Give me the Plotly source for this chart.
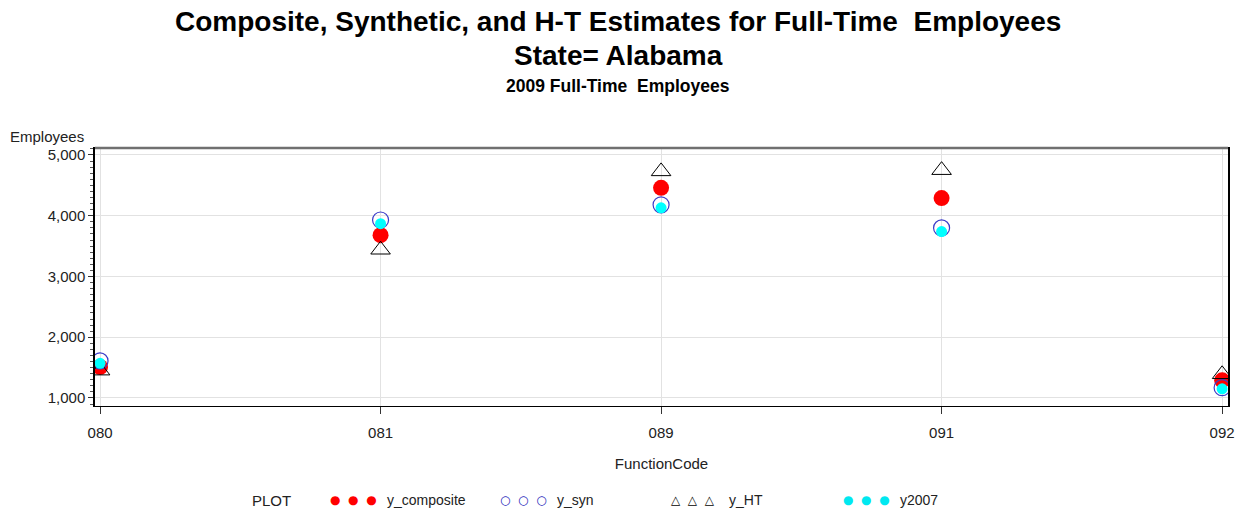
import plotly.graph_objects as go

categories = ["080", "081", "089", "091", "092"]
y_composite = [1510, 3680, 4460, 4290, 1290]
y_syn = [1610, 3930, 4180, 3800, 1170]
y_HT = [1450, 3440, 4730, 4750, 1390]
y2007 = [1570, 3870, 4130, 3740, 1150]
y_ticks = [1000, 2000, 3000, 4000, 5000]

FONT = "Liberation Sans, Arial, sans-serif"

fig = go.Figure()
fig.add_trace(go.Scatter(x=categories, y=y_composite, mode="markers", name="y_composite",
                         marker=dict(symbol="circle", size=16, color="#ff0000", line=dict(width=0))))
fig.add_trace(go.Scatter(x=categories, y=y_syn, mode="markers", name="y_syn",
                         marker=dict(symbol="circle-open", size=16, color="#3b3bc8", line=dict(width=1.2))))
fig.add_trace(go.Scatter(x=categories, y=y_HT, mode="markers", name="y_HT",
                         marker=dict(symbol="triangle-up-open", size=17, color="#000000", line=dict(width=1))))
fig.add_trace(go.Scatter(x=categories, y=y2007, mode="markers", name="y2007",
                         marker=dict(symbol="circle", size=11, color="#00ffff", line=dict(width=0))))

fig.update_layout(
    width=1247, height=512,
    margin=dict(l=95, r=19, t=148, b=106),
    paper_bgcolor="white", plot_bgcolor="white",
    showlegend=False,
    font=dict(family=FONT, size=14, color="#222"),
)
fig.update_xaxes(
    type="category", categoryorder="array", categoryarray=categories,
    range=[-0.018, 4.021],
    showgrid=True, gridcolor="#e2e2e2", gridwidth=1,
    showline=True, linecolor="black", linewidth=1, mirror=True,
    ticks="outside", ticklen=7, tickcolor="#333",
    ticklabelstandoff=6,
    tickfont=dict(size=15, family=FONT, color="#222"),
    title=dict(text="FunctionCode", font=dict(size=15, family=FONT, color="#222"), standoff=18),
)
fig.update_yaxes(
    range=[868, 5115],
    tickvals=y_ticks, tickformat=",",
    showgrid=True, gridcolor="#e2e2e2", gridwidth=1,
    zeroline=False,
    showline=True, linecolor="black", linewidth=1.5, mirror=True,
    ticks="outside", ticklen=5, tickcolor="#333",
    minor=dict(dtick=100, ticks="outside", ticklen=3, tickcolor="#555", showgrid=False),
    tickfont=dict(size=15, family=FONT, color="#222"),
)
# top frame line (thicker gray)
fig.add_shape(type="line", xref="paper", yref="paper", x0=0, x1=1, y0=1, y1=1,
              line=dict(color="#707070", width=2.5))

def ypix(p):
    return (406 - p) / 258.0

def xpix(p):
    return (p - 95) / 1133.0

ann = []
ann.append(dict(text="<b>Composite, Synthetic, and H-T Estimates for Full-Time&nbsp; Employees</b>",
                x=xpix(618), y=ypix(21), font=dict(size=28, family=FONT, color="black"), borderpad=0))
ann.append(dict(text="<b>State= Alabama</b>", x=xpix(618), y=ypix(55),
                font=dict(size=28, family=FONT, color="black")))
ann.append(dict(text="<b>2009 Full-Time&nbsp; Employees</b>", x=xpix(618), y=ypix(86),
                font=dict(size=17.5, family=FONT, color="black")))
ann.append(dict(text="Employees", x=xpix(8), y=ypix(137), xanchor="left",
                font=dict(size=15, family=FONT, color="#222")))

# legend row
ly = ypix(500)
ann.append(dict(text="PLOT", x=xpix(250), y=ly, xanchor="left", font=dict(size=15, family=FONT, color="#222")))
legend_items = [
    ("y_composite", "●&nbsp;&nbsp;●&nbsp;&nbsp;●", "#ff0000", 328, 385),
    ("y_syn", "○&nbsp;&nbsp;○&nbsp;&nbsp;○", "#1a1ab8", 498, 555),
    ("y_HT", "△&nbsp;&nbsp;△&nbsp;&nbsp;△", "#000000", 669, 727),
    ("y2007", "●&nbsp;&nbsp;●&nbsp;&nbsp;●", "#00e8f0", 841, 898),
]
for label, glyph, col, gx, tx in legend_items:
    ann.append(dict(text=glyph, x=xpix(gx), y=ly, xanchor="left",
                    font=dict(size=12, family="DejaVu Sans", color=col)))
    ann.append(dict(text=label, x=xpix(tx), y=ly, xanchor="left",
                    font=dict(size=14, family=FONT, color="#222")))

for a in ann:
    a.setdefault("xanchor", "center")
    a.update(xref="paper", yref="paper", yanchor="middle", showarrow=False)
fig.update_layout(annotations=ann)

fig.write_html("out.html",
               config={"displayModeBar": False},
               post_script="document.body.style.margin='0';document.body.style.padding='0';")
